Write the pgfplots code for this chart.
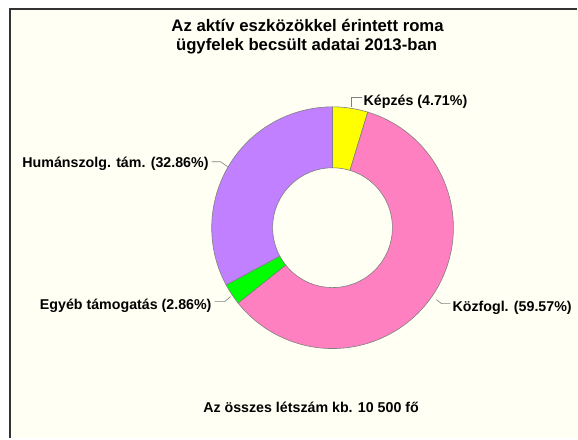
\documentclass[border=0pt]{standalone}
\usepackage{pgfplots}
\pgfplotsset{compat=1.18}
\usepackage{fontspec}
\setmainfont{Liberation Sans}
\definecolor{bgivory}{HTML}{FFFFF4}
\definecolor{edgegray}{HTML}{808080}
\definecolor{cyellow}{HTML}{FFFF00}
\definecolor{cpink}{HTML}{FF80C0}
\definecolor{cgreen}{HTML}{00FF00}
\definecolor{cpurple}{HTML}{C080FF}
% wedge: #1 = cumulative start (%), #2 = share (%), #3 = colour
\newcommand{\donutwedge}[3]{%
  \draw[shift={(axis cs:333,228)}, fill=#3, draw=edgegray, line width=0.6pt]
    ({90-3.6*#1}:121bp) arc[start angle={90-3.6*#1}, end angle={90-3.6*(#1+#2)}, radius=121bp]
    -- ({90-3.6*(#1+#2)}:60bp) arc[start angle={90-3.6*(#1+#2)}, end angle={90-3.6*#1}, radius=60bp]
    -- cycle;}
\begin{document}
\begin{tikzpicture}
\begin{axis}[width=578bp, height=439bp, scale only axis,
  xmin=0, xmax=578, ymin=0, ymax=439, y dir=reverse,
  hide axis, clip=false]
\fill[white] (axis cs:0,0) rectangle (axis cs:578,439);
\fill[bgivory] (axis cs:10,9) rectangle (axis cs:578,439);
\draw[line width=1.6pt, black!80] (axis cs:10,439) -- (axis cs:10,9) -- (axis cs:578,9);
% data: Képzés 4.71, Közfogl. 59.57, Egyéb támogatás 2.86, Humánszolg. tám. 32.86
\donutwedge{0}{4.71}{cyellow}
\donutwedge{4.71}{59.57}{cpink}
\donutwedge{64.28}{2.86}{cgreen}
\donutwedge{67.14}{32.86}{cpurple}
% leader lines
\draw[edgegray, line width=0.6pt] (axis cs:352,107) -- (axis cs:352,97) -- (axis cs:362,97);
\draw[edgegray, line width=0.6pt] (axis cs:212,162) -- (axis cs:221,162) -- (axis cs:228,167);
\draw[edgegray, line width=0.6pt] (axis cs:215,302) -- (axis cs:225,302) -- (axis cs:231,297);
\draw[edgegray, line width=0.6pt] (axis cs:437,300) -- (axis cs:442,304) -- (axis cs:451,304);
% labels
\tikzset{lab/.style={inner sep=0pt, font=\fontsize{14.3}{16}\selectfont\bfseries}}
\node[lab, anchor=base west] at (axis cs:364,105.7) {Képzés (4.71\%)};
\node[lab, anchor=base east] at (axis cs:209,167.7) {Humánszolg. tám. (32.86\%)};
\node[lab, anchor=base east] at (axis cs:212,310) {Egyéb támogatás (2.86\%)};
\node[lab, anchor=base west] at (axis cs:453,312.3) {Közfogl. (59.57\%)};
\node[lab, anchor=base] at (axis cs:311.5,413.3) {Az összes létszám kb. 10 500 fő};
\tikzset{ttl/.style={inner sep=0pt, font=\fontsize{16.8}{19}\selectfont\bfseries}}
\node[ttl, anchor=base] at (axis cs:308,32) {Az aktív eszközökkel érintett roma};
\node[ttl, anchor=base] at (axis cs:307,51) {ügyfelek becsült adatai 2013-ban};
\end{axis}
\end{tikzpicture}
\end{document}
